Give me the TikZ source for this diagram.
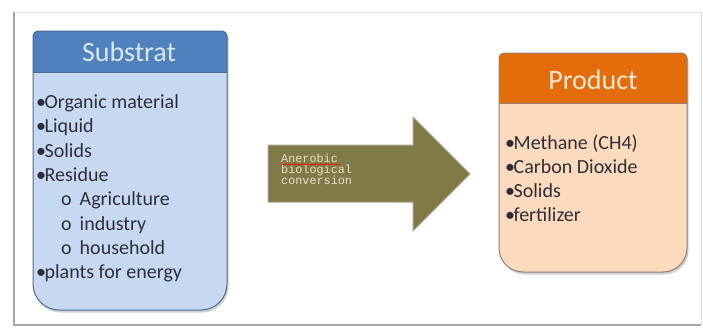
\documentclass[tikz,border=0pt]{standalone}
\usepackage{fontspec}
\setmainfont{Carlito}
\newfontfamily\monof{Liberation Mono}
\definecolor{subhead}{HTML}{4F81BD}
\definecolor{subbody}{HTML}{C6D9F1}
\definecolor{subline}{HTML}{4A6A94}
\definecolor{subtitle}{HTML}{DCE6F2}
\definecolor{prohead}{HTML}{E46C0A}
\definecolor{probody}{HTML}{FCDABE}
\definecolor{proline}{HTML}{8E8078}
\definecolor{protitle}{HTML}{FDEADA}
\definecolor{arrowfill}{HTML}{807A46}
\definecolor{arrowline}{HTML}{A8A493}
\definecolor{arrowtext}{HTML}{EAE2C6}
\definecolor{itemtext}{HTML}{2E2E38}
\tikzset{
  titletext/.style={inner sep=0pt, font=\fontsize{28}{30}\selectfont},
  itemline/.style={inner sep=0pt, anchor=base west, text=itemtext, font=\fontsize{20}{22}\selectfont},
  arrowline/.style={inner sep=0pt, anchor=base west, text=arrowtext, font=\monof\fontsize{11.8}{10.5}\selectfont},
  boxshadow/.style={fill=black, opacity=0.18},
}
\newcommand\subpath{(33,150) [rounded corners=5pt] -- (33,31) -- (130,31) -- (227,31) -- (227,150) [rounded corners=26pt] -- (227,310) -- (130,310) -- (33,310) -- cycle}
\newcommand\propath{(499,150) [rounded corners=5pt] -- (499,53) -- (593,53) -- (687,53) -- (687,150) [rounded corners=24pt] -- (687,272) -- (593,272) -- (499,272) -- cycle}
\begin{document}
\begin{tikzpicture}[x=1pt,y=-1pt]
\useasboundingbox (0,0) rectangle (703,327);
\fill[white] (0,0) rectangle (703,327);
% frame
\draw[black!12, line width=0.8pt] (14,12) -- (701,12) -- (701,325);
\draw[black!35, line width=1.2pt] (14,12) -- (14,325) -- (701,325);

% ---------- Substrat box ----------
\begin{scope}[shift={(1.5,2.5)}]
  \fill[boxshadow] \subpath;
\end{scope}
\fill[subbody] \subpath;
\begin{scope}
  \clip (0,0) rectangle (703,72);
  \fill[subhead] \subpath;
\end{scope}
\draw[subline, line width=1pt] (33,72) -- (227,72);
\draw[subline, line width=1pt] \subpath;
\node[titletext, text=subtitle] (subT) at (129,52) {Substrat};
\node[itemline] (s1) at (36,108) {•\hspace{-1.5pt}Organic material};
\node[itemline] (s2) at (36,132) {•\hspace{-1.5pt}Liquid};
\node[itemline] (s3) at (36,157) {•\hspace{-1.5pt}Solids};
\node[itemline] (s4) at (36,181) {•\hspace{-1.5pt}Residue};
\node[itemline] (s5) at (61,205) {o\hspace{8pt}Agriculture};
\node[itemline] (s6) at (61,230) {o\hspace{8pt}industry};
\node[itemline] (s7) at (61,254) {o\hspace{8pt}household};
\node[itemline] (s8) at (36,278) {•\hspace{-1.5pt}plants for energy};

% ---------- Arrow ----------
\fill[arrowfill, draw=arrowline, line width=1pt]
  (268,145) -- (413,145) -- (413,117) -- (470,174) -- (413,231) -- (413,202) -- (268,202) -- cycle;
\node[arrowline] (arT) at (281,162) {Anerobic};
\node[arrowline] (arT2) at (281,173) {biological};
\node[arrowline] (arT3) at (281,184) {conversion};
\draw[red!80!orange, line width=1pt] (282,164.8) -- (340,164.8);

% ---------- Product box ----------
\begin{scope}[shift={(1.5,2.5)}]
  \fill[boxshadow] \propath;
\end{scope}
\fill[probody] \propath;
\begin{scope}
  \clip (0,0) rectangle (703,103);
  \fill[prohead] \propath;
\end{scope}
\draw[proline, line width=1pt] (499,103) -- (687,103);
\draw[proline, line width=1pt] \propath;
\node[titletext, text=protitle] (proT) at (593,80) {Product};
\node[itemline] (p1) at (505,149) {•\hspace{-1.5pt}Methane (CH4)};
\node[itemline] (p2) at (505,173) {•\hspace{-1.5pt}Carbon Dioxide};
\node[itemline] (p3) at (505,197) {•\hspace{-1.5pt}Solids};
\node[itemline] (p4) at (505,221) {•\hspace{-1.5pt}fertilizer};
\end{tikzpicture}
\end{document}
